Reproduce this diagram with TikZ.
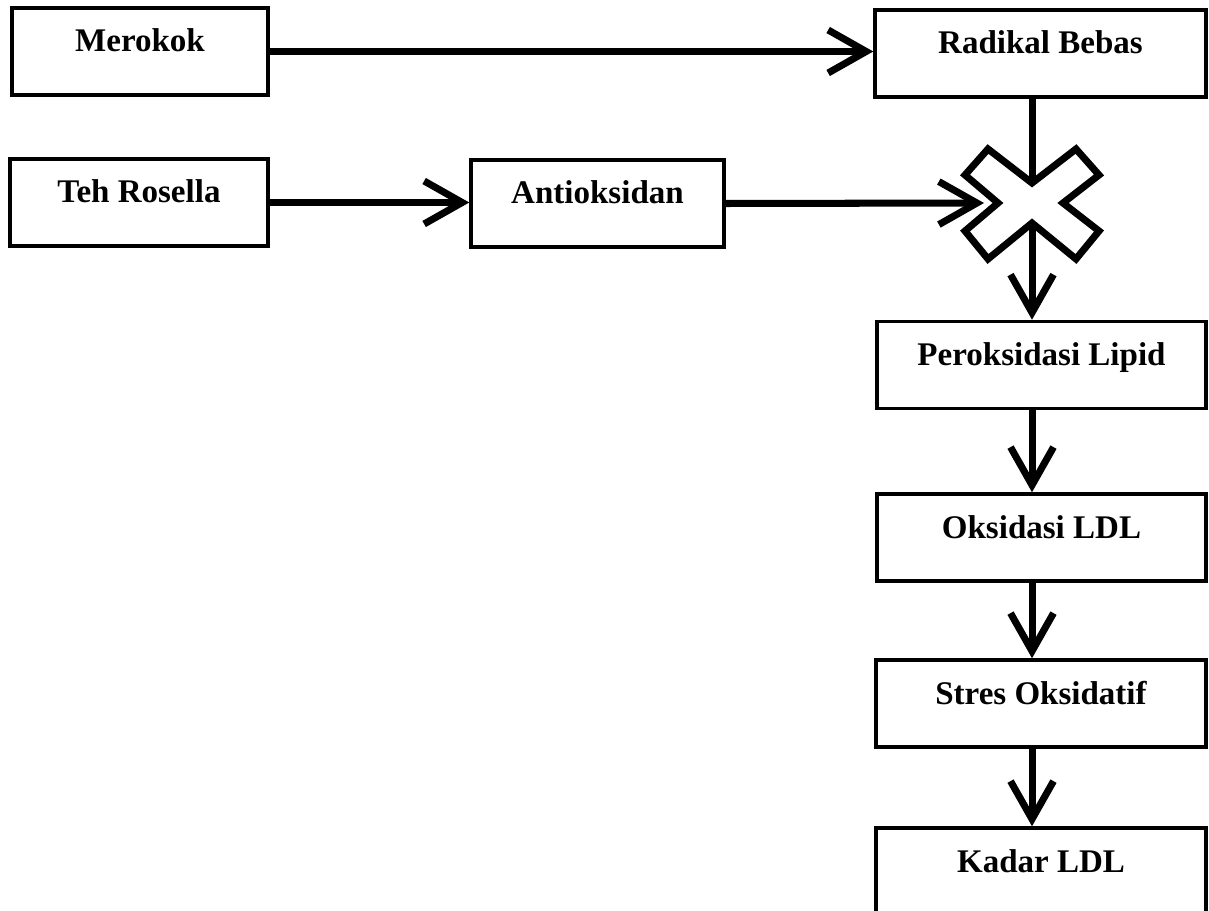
\documentclass[tikz,border=0pt]{standalone}
\usepackage{fontspec}
\setmainfont{Liberation Serif}
\usetikzlibrary{arrows.meta}

\begin{document}
\begin{tikzpicture}[x=0.02cm,y=-0.02cm,
  box/.style={draw,line width=2pt,inner sep=0pt,text height=0.88cm,text depth=0.86cm,
    font=\fontsize{18.8}{22}\selectfont\bfseries},
  link/.style={line width=4pt,-{Straight Barb[length=0.76cm,width=0.86cm]}}]
  \clip (0,0) rectangle (1209,911);
  \node[box,minimum width=5.12cm] (merokok) at (140,51.5) {Merokok};
  \node[box,minimum width=5.16cm] (rosella) at (139,202.5) {Teh Rosella};
  \node[box,minimum width=5.06cm] (antiok) at (597.5,203.5) {Antioksidan};
  \node[box,minimum width=6.62cm] (radikal) at (1040.5,53.5) {Radikal Bebas};
  \node[box,minimum width=6.58cm] (lipid) at (1041.5,365) {Peroksidasi Lipid};
  \node[box,minimum width=6.58cm] (oksldl) at (1041.5,537.5) {Oksidasi LDL};
  \node[box,minimum width=6.60cm] (stres) at (1041,703.5) {Stres Oksidatif};
  \node[box,minimum width=6.60cm] (kadar) at (1041,871.5) {Kadar LDL};
  \coordinate (cross) at (1032,203);
  \coordinate (crossN) at (1032,183);
  \coordinate (crossS) at (1032,223);
  \coordinate (crossW) at (984,203);
  \draw[link] (merokok.east) -- (merokok.east -| radikal.west);
  \draw[link] (rosella.east) -- (rosella.east -| antiok.west);
  \draw[link] (antiok.east) -- (crossW);
  \draw[line width=4pt] (cross |- radikal.south) -- (crossN);
  \draw[link] (crossS) -- (cross |- lipid.north);
  \draw[link] (cross |- lipid.south) -- (cross |- oksldl.north);
  \draw[link] (cross |- oksldl.south) -- (cross |- stres.north);
  \draw[link] (cross |- stres.south) -- (cross |- kadar.north);
  \draw[shift={(cross)},line width=4pt,fill=white]
    (0,-20) -- (44,-54) -- (67,-28) -- (31,0) -- (67,28) -- (44,56)
    -- (0,20) -- (-44,56) -- (-67,28) -- (-34,0) -- (-67,-28) -- (-44,-54) -- cycle;
\end{tikzpicture}
\end{document}
